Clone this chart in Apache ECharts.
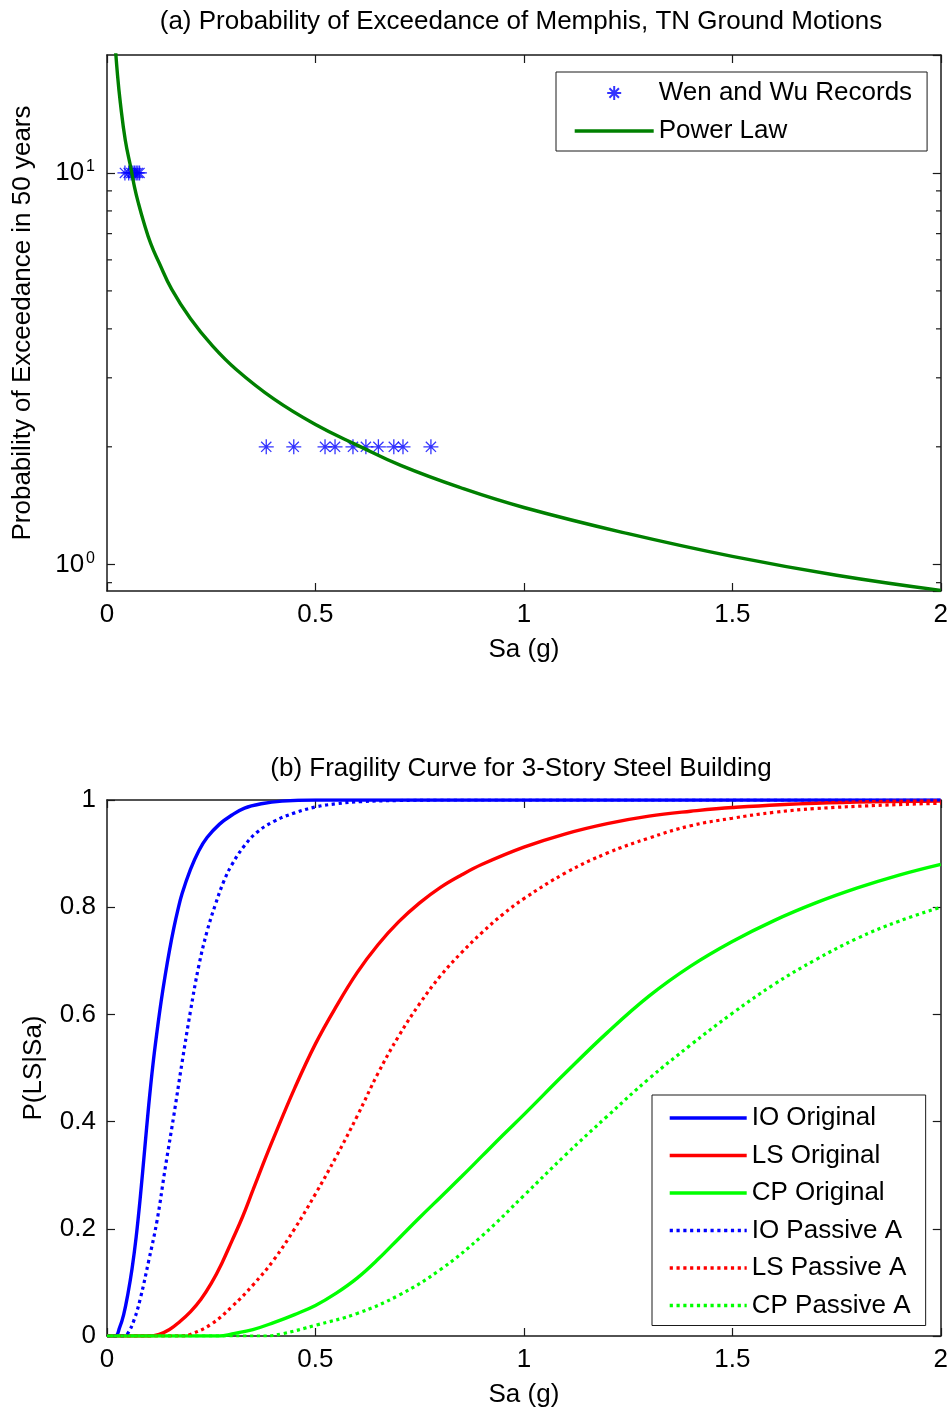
<!DOCTYPE html>
<html>
<head>
<meta charset="utf-8">
<title>Memphis ground motions and fragility curves</title>
<script src="https://cdn.jsdelivr.net/npm/echarts@6/dist/echarts.min.js"></script>
<style>
  html, body { margin: 0; padding: 0; background: #ffffff; }
  #chart { width: 951px; height: 1411px; }
</style>
</head>
<body>
<div id="chart"></div>
<script>
// ---- (a) Probability of exceedance: Sa (g) vs. probability in 50 years ----
const recordsHigh = [[0.043, 10], [0.052, 10], [0.058, 10], [0.062, 10], [0.066, 10], [0.070, 10], [0.074, 10], [0.078, 10]];
const recordsLow = [[0.382, 2], [0.448, 2], [0.523, 2], [0.547, 2], [0.590, 2], [0.621, 2], [0.651, 2], [0.688, 2], [0.710, 2], [0.777, 2]];
const powerLaw = [
  [0.018, 22.4], [0.025, 17.9], [0.032, 15.1], [0.044, 12.1], [0.058, 10.2], [0.066, 9.2],
  [0.075, 8.4], [0.088, 7.5], [0.105, 6.6], [0.125, 5.9], [0.155, 5.05], [0.200, 4.25],
  [0.250, 3.65], [0.310, 3.15], [0.400, 2.65], [0.500, 2.28], [0.600, 2.02], [0.706, 1.79],
  [0.850, 1.57], [1.000, 1.40], [1.250, 1.20], [1.500, 1.05], [1.750, 0.94], [2.000, 0.86]
];
const logMinorTicks = [0.9, 2, 3, 4, 5, 6, 7, 8, 9];

// ---- (b) Fragility curves: Sa (g) vs. P(LS|Sa) ----
const ioOriginal = [
  [0, 0], [0.02, 0], [0.03, 0.015], [0.04, 0.04], [0.05, 0.078], [0.06, 0.125], [0.07, 0.185],
  [0.08, 0.26], [0.09, 0.345], [0.10, 0.43], [0.11, 0.505], [0.12, 0.568], [0.13, 0.625],
  [0.14, 0.675], [0.15, 0.72], [0.16, 0.76], [0.17, 0.795], [0.18, 0.825], [0.20, 0.87],
  [0.22, 0.905], [0.24, 0.93], [0.27, 0.955], [0.30, 0.972], [0.33, 0.985], [0.37, 0.993],
  [0.42, 0.998], [0.50, 1.0], [2.0, 1.0]
];
const lsOriginal = [
  [0, 0], [0.10, 0], [0.125, 0.003], [0.15, 0.012], [0.175, 0.027], [0.20, 0.045], [0.225, 0.068],
  [0.25, 0.098], [0.275, 0.135], [0.30, 0.178], [0.325, 0.222], [0.35, 0.272], [0.375, 0.322],
  [0.40, 0.37], [0.45, 0.462], [0.50, 0.545], [0.55, 0.615], [0.60, 0.678], [0.65, 0.73],
  [0.70, 0.773], [0.75, 0.808], [0.80, 0.837], [0.85, 0.86], [0.90, 0.88], [1.00, 0.912],
  [1.10, 0.937], [1.20, 0.956], [1.30, 0.97], [1.40, 0.979], [1.50, 0.986], [1.70, 0.994],
  [2.00, 0.998]
];
const cpOriginal = [
  [0, 0], [0.27, 0], [0.30, 0.004], [0.35, 0.012], [0.40, 0.025], [0.45, 0.04], [0.50, 0.057],
  [0.55, 0.08], [0.60, 0.108], [0.65, 0.143], [0.70, 0.182], [0.75, 0.221], [0.80, 0.259],
  [0.85, 0.297], [0.90, 0.336], [0.95, 0.375], [1.00, 0.413], [1.10, 0.491], [1.20, 0.566],
  [1.30, 0.634], [1.40, 0.69], [1.50, 0.736], [1.60, 0.775], [1.70, 0.808], [1.80, 0.836],
  [1.90, 0.86], [2.00, 0.88]
];
const ioPassiveA = [
  [0, 0], [0.04, 0], [0.05, 0.005], [0.065, 0.03], [0.08, 0.07], [0.10, 0.14], [0.12, 0.215],
  [0.14, 0.315], [0.16, 0.41], [0.18, 0.51], [0.20, 0.605], [0.22, 0.69], [0.24, 0.755],
  [0.26, 0.805], [0.28, 0.848], [0.30, 0.88], [0.33, 0.915], [0.36, 0.94], [0.40, 0.96],
  [0.45, 0.976], [0.50, 0.987], [0.55, 0.993], [0.61, 0.997], [0.70, 0.999], [0.80, 1.0],
  [2.0, 1.0]
];
const lsPassiveA = [
  [0, 0], [0.18, 0], [0.20, 0.003], [0.25, 0.022], [0.30, 0.055], [0.35, 0.095], [0.40, 0.142],
  [0.45, 0.20], [0.50, 0.265], [0.55, 0.335], [0.60, 0.41], [0.65, 0.49], [0.70, 0.56],
  [0.75, 0.62], [0.80, 0.672], [0.85, 0.715], [0.90, 0.753], [0.95, 0.787], [1.00, 0.816],
  [1.10, 0.864], [1.20, 0.901], [1.30, 0.929], [1.40, 0.952], [1.50, 0.966], [1.60, 0.977],
  [1.70, 0.984], [1.85, 0.99], [2.00, 0.994]
];
const cpPassiveA = [
  [0, 0], [0.38, 0], [0.42, 0.004], [0.50, 0.02], [0.60, 0.042], [0.70, 0.076], [0.80, 0.124],
  [0.90, 0.187], [1.00, 0.262], [1.10, 0.338], [1.20, 0.41], [1.30, 0.48], [1.40, 0.543],
  [1.50, 0.602], [1.60, 0.656], [1.70, 0.702], [1.80, 0.742], [1.90, 0.774], [2.00, 0.80]
];

const titleA = '(a) Probability of Exceedance of Memphis, TN Ground Motions';
const titleB = '(b) Fragility Curve for 3-Story Steel Building';
const xName = 'Sa (g)';
const yNameA = 'Probability of Exceedance in 50 years';
const yNameB = 'P(LS|Sa)';

const FONT = '"Liberation Sans", Arial, Helvetica, sans-serif';
const FS = 26;
const AX = '#1a1a1a';
const LW = 3.4;

const GRID_A = { left: 107, top: 55, width: 834, height: 536 };
const GRID_B = { left: 107, top: 800, width: 834, height: 536 };

const axisLine = { show: true, onZero: false, lineStyle: { color: AX, width: 1.5 } };
const tick = { show: true, inside: true, length: 8, lineStyle: { color: AX, width: 1.2 } };
const labelStyle = { color: '#000', fontFamily: FONT, fontSize: FS };

function xAxisPair(gridIndex) {
  const base = { type: 'value', gridIndex, min: 0, max: 2, interval: 0.5,
    axisLine, axisTick: tick, splitLine: { show: false } };
  return [
    Object.assign({}, base, {
      position: 'bottom',
      axisLabel: Object.assign({ margin: 11 }, labelStyle),
      name: xName, nameLocation: 'middle', nameGap: 46,
      nameTextStyle: labelStyle
    }),
    Object.assign({}, base, { position: 'top', axisLabel: { show: false } })
  ];
}

const superscript = { fontFamily: FONT, fontSize: 16, color: '#000', verticalAlign: 'top', padding: [0, 0, 12, 2] };
const logLabel = v => {
  if (Math.abs(v - 1) < 1e-6) return '{b|10}{s|0}';
  if (Math.abs(v - 10) < 1e-6) return '{b|10}{s|1}';
  return '';
};

const yAxes = [
  { type: 'log', logBase: 10, gridIndex: 0, position: 'left', min: 0.857, max: 20,
    axisLine, axisTick: tick, splitLine: { show: false }, minorTick: { show: false },
    axisLabel: { margin: 12, formatter: logLabel, showMinLabel: false, showMaxLabel: false,
      rich: { b: Object.assign({}, labelStyle), s: superscript } },
    name: yNameA, nameLocation: 'middle', nameGap: 71, nameTextStyle: labelStyle },
  { type: 'log', logBase: 10, gridIndex: 0, position: 'right', min: 0.857, max: 20,
    axisLine, axisTick: tick, splitLine: { show: false }, axisLabel: { show: false } },
  { type: 'value', gridIndex: 1, position: 'left', min: 0, max: 1, interval: 0.2,
    axisLine, axisTick: tick, splitLine: { show: false },
    axisLabel: Object.assign({ margin: 11 }, labelStyle),
    name: yNameB, nameLocation: 'middle', nameGap: 60, nameTextStyle: labelStyle },
  { type: 'value', gridIndex: 1, position: 'right', min: 0, max: 1, interval: 0.2,
    axisLine, axisTick: tick, splitLine: { show: false }, axisLabel: { show: false } }
];

// eight-armed asterisk marker
const STAR = 'path://M5 0L5 10M0 5L10 5M1.6 1.6L8.4 8.4M1.6 8.4L8.4 1.6';

function curve(name, data, color, dotted) {
  return {
    name, type: 'line', xAxisIndex: 2, yAxisIndex: 2, data,
    smooth: 0.4, symbol: 'none', color,
    lineStyle: { color, width: dotted ? 3.2 : LW, type: dotted ? [3.2, 3.6] : 'solid', cap: 'butt' }
  };
}

const legendText = { color: '#000', fontFamily: FONT, fontSize: FS };
// line entries show only the stroke, no marker
const lineEntry = name => ({ name, itemStyle: { opacity: 0 } });

const option = {
  animation: false,
  backgroundColor: '#ffffff',
  grid: [GRID_A, GRID_B],
  xAxis: xAxisPair(0).concat(xAxisPair(1)),
  yAxis: yAxes,
  legend: [
    { orient: 'vertical', left: 556, top: 72, padding: [8, 15, 7, 17],
      itemWidth: 79, itemHeight: 14, itemGap: 12,
      borderColor: AX, borderWidth: 1, backgroundColor: '#fff',
      lineStyle: { width: LW },
      textStyle: legendText, data: ['Wen and Wu Records', lineEntry('Power Law')] },
    { orient: 'vertical', left: 652, top: 1095, padding: [10, 15, 7, 16],
      itemWidth: 77, itemHeight: 14, itemGap: 11.5,
      borderColor: AX, borderWidth: 1, backgroundColor: '#fff',
      lineStyle: { width: LW },
      textStyle: legendText,
      data: ['IO Original', 'LS Original', 'CP Original', 'IO Passive A', 'LS Passive A', 'CP Passive A'].map(lineEntry) }
  ],
  series: [
    { name: 'Wen and Wu Records', type: 'scatter', xAxisIndex: 0, yAxisIndex: 0,
      data: recordsHigh.concat(recordsLow), symbol: STAR, symbolSize: 15,
      itemStyle: { color: 'rgba(0,0,255,0)', borderColor: '#0000ff', borderWidth: 1.3 } },
    { name: 'Power Law', type: 'line', xAxisIndex: 0, yAxisIndex: 0, data: powerLaw,
      smooth: 0.45, symbol: 'none', color: '#008000',
      lineStyle: { color: '#008000', width: LW } },
    curve('IO Original', ioOriginal, '#0000ff', false),
    curve('LS Original', lsOriginal, '#ff0000', false),
    curve('CP Original', cpOriginal, '#00ff00', false),
    curve('IO Passive A', ioPassiveA, '#0000ff', true),
    curve('LS Passive A', lsPassiveA, '#ff0000', true),
    curve('CP Passive A', cpPassiveA, '#00ff00', true)
  ]
};

const chart = echarts.init(document.getElementById('chart'), null, { renderer: 'canvas' });
chart.setOption(option);

// titles and the log-axis minor ticks (positions come from the axis scale)
const graphics = [
  { type: 'text', x: GRID_A.left + GRID_A.width / 2 - 3, y: 22,
    style: { text: titleA, fill: '#000', font: FS + 'px ' + FONT, align: 'center', verticalAlign: 'middle' } },
  { type: 'text', x: GRID_B.left + GRID_B.width / 2 - 3, y: 769,
    style: { text: titleB, fill: '#000', font: FS + 'px ' + FONT, align: 'center', verticalAlign: 'middle' } }
];
const xl = GRID_A.left, xr = GRID_A.left + GRID_A.width;
logMinorTicks.forEach(v => {
  const y = chart.convertToPixel({ yAxisIndex: 0 }, v);
  graphics.push({ type: 'line', shape: { x1: xl, y1: y, x2: xl + 5, y2: y }, style: { stroke: AX, lineWidth: 1.2 } });
  graphics.push({ type: 'line', shape: { x1: xr - 5, y1: y, x2: xr, y2: y }, style: { stroke: AX, lineWidth: 1.2 } });
});
chart.setOption({ graphic: graphics });
</script>
</body>
</html>
